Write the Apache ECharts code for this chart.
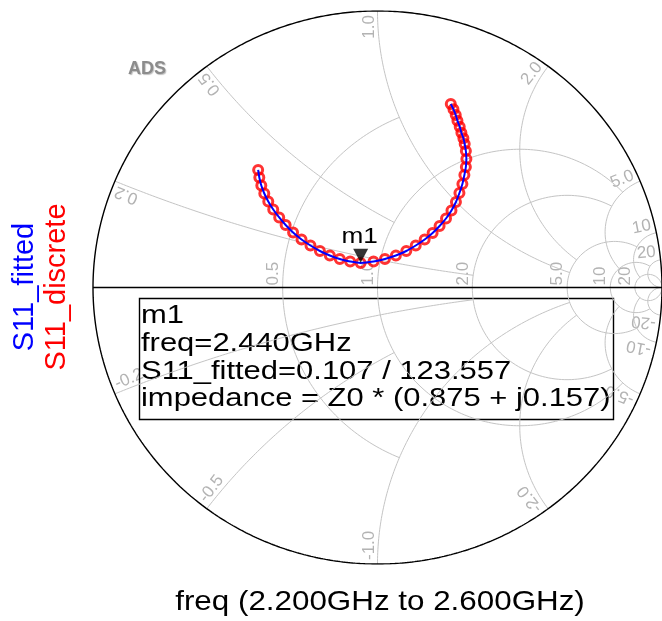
<!DOCTYPE html>
<html>
<head>
<meta charset="utf-8">
<script src="https://cdn.jsdelivr.net/npm/echarts@6/dist/echarts.min.js"></script>
<style>
  html, body { margin: 0; padding: 0; background: #ffffff; }
  #chart { width: 662px; height: 621px; }
</style>
</head>
<body>
<div id="chart"></div>
<script>
// Frequency sweep of the reflection coefficient S11 (GHz)
const freqGHz = [2.20, 2.21, 2.22, 2.23, 2.24, 2.25, 2.26, 2.27, 2.28, 2.29,
                 2.30, 2.31, 2.32, 2.33, 2.34, 2.35, 2.36, 2.37, 2.38, 2.39,
                 2.40, 2.41, 2.42, 2.43, 2.44, 2.45, 2.46, 2.47, 2.48, 2.49,
                 2.50, 2.51, 2.52, 2.53, 2.54, 2.55, 2.56, 2.57, 2.58, 2.59, 2.60];
// Real and imaginary parts of the measured S11 at each frequency
const s11Re = [-0.4195, -0.4154, -0.4084, -0.3979, -0.3839, -0.3665, -0.3455, -0.3229, -0.2967, -0.2670,
               -0.2356, -0.2024, -0.1675, -0.1326, -0.0960, -0.0593, -0.0140,  0.0262,  0.0646,  0.1012,
                0.1344,  0.1658,  0.1937,  0.2182,  0.2408,  0.2600,  0.2757,  0.2880,  0.2984,  0.3054,
                0.3106,  0.3124,  0.3106,  0.3065,  0.3019,  0.2949,  0.2890,  0.2810,  0.2750,  0.2670, 0.2576];
const s11Im = [ 0.4250,  0.3978,  0.3689,  0.3400,  0.3110,  0.2821,  0.2532,  0.2260,  0.1989,  0.1736,
                0.1519,  0.1320,  0.1157,  0.1031,  0.0940,  0.0890,  0.0940,  0.1031,  0.1157,  0.1320,
                0.1519,  0.1736,  0.1971,  0.2224,  0.2495,  0.2785,  0.3092,  0.3418,  0.3743,  0.4069,
                0.4358,  0.4647,  0.4937,  0.5190,  0.5396,  0.5599,  0.5816,  0.6033,  0.6239,  0.6445, 0.6637];

// Marker on the fitted trace
const markerName = 'm1';
const markerFreqGHz = 2.44;
const markerMagnitude = 0.107;
const markerAngleDeg = 123.557;
const markerZ = [0.875, 0.157];

// Smith chart grid values and the extent of each grid line
const resistanceCircles = [0.5, 1, 2, 5, 10, 20];
const resistanceReach   = [1, 5, 5, 10, 20, Infinity];   // |x| limit of each r circle
const reactanceArcs     = [0.2, 0.5, 1, 2, 5, 10, 20];
const reactanceReach    = [2, 1, 5, 5, 10, 20, Infinity]; // r limit of each x arc
const resistanceLabels  = ['0.5', '1.0', '2.0', '5.0', '10', '20'];
const reactanceLabels   = ['0.2', '0.5', '1.0', '2.0', '5.0', '10', '20'];

// Plot frame (pixels)
const PLOT = { left: 93, top: 11, width: 573, height: 553 };
const GRID_COLOR = '#c4c4c4';
const LABEL_COLOR = '#b3b3b3';
const FONT = 'Liberation Sans, Arial, sans-serif';
const WIDE = 1.19;   // horizontal stretch of the caption lettering

// impedance (r + jx) -> reflection coefficient
function gammaOf(r, x) {
  const d = (r + 1) * (r + 1) + x * x;
  return [(r * r + x * x - 1) / d, (2 * x) / d];
}

function resistanceCurve(r, xLimit) {
  const c = r / (r + 1), rad = 1 / (r + 1);
  let t0 = 0;
  if (isFinite(xLimit)) {
    const g = gammaOf(r, xLimit);
    t0 = Math.atan2(g[1], g[0] - c);
  }
  const pts = [];
  const n = 240;
  for (let i = 0; i <= n; i++) {
    const t = t0 + (2 * Math.PI - 2 * t0) * i / n;
    pts.push([c + rad * Math.cos(t), rad * Math.sin(t)]);
  }
  return pts;
}

function reactanceCurve(x, rLimit) {
  const ax = Math.abs(x);
  const cy = 1 / ax, rad = 1 / ax;
  const norm = a => (a < 0 ? a + 2 * Math.PI : a);
  const g0 = gammaOf(0, ax);
  const a0 = norm(Math.atan2(g0[1] - cy, g0[0] - 1));
  const a1 = isFinite(rLimit)
    ? norm(Math.atan2(gammaOf(rLimit, ax)[1] - cy, gammaOf(rLimit, ax)[0] - 1))
    : 1.5 * Math.PI;
  const pts = [];
  const n = 240;
  for (let i = 0; i <= n; i++) {
    const a = a0 + (a1 - a0) * i / n;
    const v = cy + rad * Math.sin(a);
    pts.push([1 + rad * Math.cos(a), x < 0 ? -v : v]);
  }
  return pts;
}

function unitCircle() {
  const pts = [];
  for (let i = 0; i <= 720; i++) {
    const t = 2 * Math.PI * i / 720;
    pts.push([Math.cos(t), Math.sin(t)]);
  }
  return pts;
}

const gridLine = (data) => ({
  type: 'line', data, showSymbol: false, silent: true, animation: false,
  lineStyle: { color: GRID_COLOR, width: 1 }, z: 1
});

const series = [];
resistanceCircles.forEach((r, i) => series.push(gridLine(resistanceCurve(r, resistanceReach[i]))));
reactanceArcs.forEach((x, i) => {
  series.push(gridLine(reactanceCurve(x, reactanceReach[i])));
  series.push(gridLine(reactanceCurve(-x, reactanceReach[i])));
});
series.push({
  type: 'line', data: unitCircle(), showSymbol: false, silent: true, animation: false,
  lineStyle: { color: '#000', width: 1.4 }, z: 2
});
series.push({
  type: 'line', data: [[-1, 0], [1, 0]], showSymbol: false, silent: true, animation: false,
  lineStyle: { color: '#000', width: 1.4 }, z: 2
});

const sweep = s11Re.map((re, i) => [re, s11Im[i]]);
const markerRad = markerAngleDeg * Math.PI / 180;
const markerPoint = [markerMagnitude * Math.cos(markerRad), markerMagnitude * Math.sin(markerRad)];

series.push({
  name: 'S11_discrete', type: 'scatter', data: sweep, animation: false,
  symbol: 'circle', symbolSize: 9,
  itemStyle: { color: 'rgba(255,255,255,0)', borderColor: '#ff0000', borderWidth: 3 },
  z: 5
});
series.push({
  name: 'S11_fitted', type: 'line', data: sweep, animation: false,
  showSymbol: false, smooth: 0.3,
  lineStyle: { color: '#0000ff', width: 2 }, z: 6
});
series.push({
  type: 'scatter', data: [markerPoint], animation: false,
  symbol: 'triangle', symbolRotate: 180, symbolSize: [15, 14], symbolOffset: [0, -7],
  itemStyle: { color: '#000' }, z: 8
});

const chart = echarts.init(document.getElementById('chart'), null, { renderer: 'canvas' });
chart.setOption({
  animation: false,
  backgroundColor: '#ffffff',
  grid: { left: PLOT.left, top: PLOT.top, width: PLOT.width, height: PLOT.height, containLabel: false },
  xAxis: { type: 'value', min: -1, max: 1, show: false },
  yAxis: { type: 'value', min: -1, max: 1, show: false },
  series
});

// Text drawn over the chart: grid labels, axis captions, marker readout
const px = p => chart.convertToPixel({ gridIndex: 0 }, p);
const graphics = [];
const center = px([0, 0]);

function gridLabel(text, anchor, dir, alignStart) {
  // dir: reading direction (screen); glyphs sit on the left of the reading direction
  const rot = Math.atan2(-dir[1], dir[0]);
  graphics.push({
    type: 'text', x: anchor[0], y: anchor[1], rotation: rot, silent: true,
    style: {
      text, fill: LABEL_COLOR, font: '17px ' + FONT,
      align: alignStart ? 'left' : 'right', verticalAlign: 'bottom'
    }
  });
}

reactanceArcs.forEach((x, i) => {
  [1, -1].forEach(sgn => {
    const g = gammaOf(0, sgn * x);
    const e = px(g);
    const dx = e[0] - center[0], dy = e[1] - center[1];
    const L = Math.hypot(dx, dy);
    const out = [dx / L, dy / L];
    const gap = 4;
    const anchor = [e[0] - out[0] * gap, e[1] - out[1] * gap];
    if (sgn > 0) gridLabel(reactanceLabels[i], anchor, out, false);
    else gridLabel('-' + reactanceLabels[i], anchor, [-out[0], -out[1]], true);
  });
});
resistanceCircles.forEach((r, i) => {
  const e = px([(r - 1) / (r + 1), 0]);
  gridLabel(resistanceLabels[i], [e[0] - 1, e[1] - 2], [0, -1], true);
});

graphics.push({
  type: 'text', x: 128, y: 60, silent: true,
  style: {
    text: 'ADS', font: 'bold 18px ' + FONT, fill: '#8c8c8c',
    textShadowColor: 'rgba(0,0,0,0.25)', textShadowOffsetX: 1, textShadowOffsetY: 1, textShadowBlur: 1
  }
});
graphics.push({
  type: 'text', x: 25, y: 287, rotation: Math.PI / 2, silent: true,
  style: { text: 'S11_fitted', font: '29px ' + FONT, fill: '#0000ff', align: 'center', verticalAlign: 'middle' }
});
graphics.push({
  type: 'text', x: 57, y: 287, rotation: Math.PI / 2, silent: true,
  style: { text: 'S11_discrete', font: '29px ' + FONT, fill: '#ff0000', align: 'center', verticalAlign: 'middle' }
});
graphics.push({
  type: 'text', x: 380, y: 602, scaleX: 1.12, silent: true,
  style: {
    text: 'freq (' + freqGHz[0].toFixed(3) + 'GHz to ' + freqGHz[freqGHz.length - 1].toFixed(3) + 'GHz)',
    font: '28px ' + FONT, fill: '#000', align: 'center', verticalAlign: 'middle'
  }
});

// Marker symbol caption
const mp = px(markerPoint);
graphics.push({
  type: 'text', x: mp[0] - 1, y: mp[1] - 26, scaleX: WIDE, silent: true,
  style: { text: markerName, font: '22px ' + FONT, fill: '#000', align: 'center', verticalAlign: 'middle' }
});

// Marker readout box
const readout = [
  markerName,
  'freq=' + markerFreqGHz.toFixed(3) + 'GHz',
  'S11_fitted=' + markerMagnitude.toFixed(3) + ' / ' + markerAngleDeg.toFixed(3),
  'impedance = Z0 * (' + markerZ[0].toFixed(3) + ' + j' + markerZ[1].toFixed(3) + ')'
];
graphics.push({
  type: 'rect', silent: true,
  shape: { x: 139.5, y: 298.5, width: 474, height: 121 },
  style: { fill: 'none', stroke: '#000', lineWidth: 1.4 }
});
readout.forEach((line, i) => {
  graphics.push({
    type: 'text', x: 141, y: 316 + i * 27.7, scaleX: WIDE, silent: true,
    style: { text: line, font: '26px ' + FONT, fill: '#000', align: 'left', verticalAlign: 'middle' }
  });
});

chart.setOption({ graphic: graphics });
</script>
</body>
</html>
